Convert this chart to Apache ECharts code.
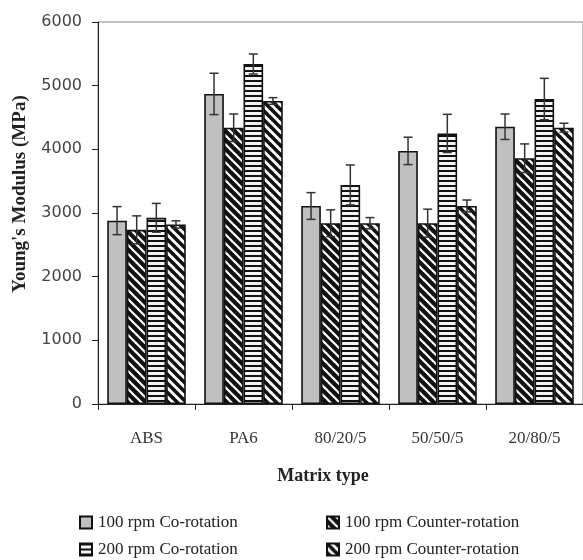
<!DOCTYPE html>
<html>
<head>
<meta charset="utf-8">
<script src="https://cdn.jsdelivr.net/npm/echarts@6/dist/echarts.min.js"></script>
<style>
html,body{margin:0;padding:0;background:#fff;}
#chart{width:583px;height:560px;}
</style>
</head>
<body>
<div id="chart"></div>
<script>
// ---- data ----
var categories = ['ABS', 'PA6', '80/20/5', '50/50/5', '20/80/5'];
var seriesNames = ['100 rpm Co-rotation', '100 rpm Counter-rotation', '200 rpm Co-rotation', '200 rpm Counter-rotation'];
var co100 = [2880, 4870, 3110, 3975, 4355];
var counter100 = [2735, 4340, 2840, 2840, 3860];
var co200 = [2925, 5340, 3440, 4250, 4790];
var counter200 = [2820, 4760, 2840, 3110, 4340];
var co100Err = [220, 325, 210, 215, 200];
var counter100Err = [220, 215, 210, 220, 225];
var co200Err = [226, 157, 314, 300, 325];
var counter200Err = [57, 52, 88, 94, 70];
var yTicks = {min: 0, max: 6000, interval: 1000};

var values = [co100, counter100, co200, counter200];
var errors = [co100Err, counter100Err, co200Err, counter200Err];

// ---- patterns ----
function diagPattern(size, bg, fg, w) {
  var c = document.createElement('canvas');
  c.width = size; c.height = size;
  var ctx = c.getContext('2d');
  ctx.fillStyle = bg; ctx.fillRect(0, 0, size, size);
  ctx.strokeStyle = fg; ctx.lineWidth = w; ctx.lineCap = 'square';
  [[0, 0, size, size], [-size, 0, size, 2 * size], [0, -size, 2 * size, size]].forEach(function (s) {
    ctx.beginPath(); ctx.moveTo(s[0], s[1]); ctx.lineTo(s[2], s[3]); ctx.stroke();
  });
  return {image: c, repeat: 'repeat'};
}
function horizPattern(h, black) {
  var c = document.createElement('canvas');
  c.width = 4; c.height = h;
  var ctx = c.getContext('2d');
  ctx.fillStyle = '#f4f4f4'; ctx.fillRect(0, 0, 4, h);
  ctx.fillStyle = '#111'; ctx.fillRect(0, 0, 4, black);
  return {image: c, repeat: 'repeat'};
}
var fills = [
  '#c0c0c0',
  diagPattern(9, '#111', '#ffffff', 2.2),
  horizPattern(5, 2),
  diagPattern(9, '#ffffff', '#111', 3.6)
];

var catGap = 0.19;
var series = [];
for (var i = 0; i < 4; i++) {
  series.push({
    name: seriesNames[i],
    type: 'bar',
    data: values[i],
    barGap: '0%',
    barCategoryGap: '19%',
    itemStyle: {color: fills[i], borderColor: '#111', borderWidth: 1.6},
    emphasis: {disabled: true}
  });
}
for (var j = 0; j < 4; j++) {
  (function (idx) {
    var d = values[idx].map(function (v, k) { return [k, v, errors[idx][k]]; });
    series.push({
      type: 'custom',
      name: seriesNames[idx] + ' err',
      data: d,
      encode: {x: 0, y: 1},
      z: 5,
      silent: true,
      renderItem: function (params, api) {
        var cat = api.value(0), v = api.value(1), e = api.value(2);
        var p = api.coord([cat, v]);
        var band = api.size([1, 0])[0];
        var bw = band * (1 - catGap) / 4;
        var x = p[0] + (idx - 1.5) * bw;
        var top = api.coord([cat, v + e])[1];
        var bot = api.coord([cat, v - e])[1];
        var cap = 4.5;
        var st = {stroke: '#333', lineWidth: 1.5};
        return {
          type: 'group',
          children: [
            {type: 'line', shape: {x1: x, y1: top, x2: x, y2: bot}, style: st},
            {type: 'line', shape: {x1: x - cap, y1: top, x2: x + cap, y2: top}, style: st},
            {type: 'line', shape: {x1: x - cap, y1: bot, x2: x + cap, y2: bot}, style: st}
          ]
        };
      }
    });
  })(j);
}

var serif = '"Liberation Serif", "Times New Roman", serif';
function legendItem(name, left, top) {
  return {
    data: [name],
    orient: 'horizontal', left: left, top: top,
    itemWidth: 12, itemHeight: 12, itemGap: 6, padding: 0,
    icon: 'rect', selectedMode: false,
    textStyle: {fontFamily: serif, fontSize: 17, color: '#222', padding: [0, 0, 0, 1]}
  };
}

var chart = echarts.init(document.getElementById('chart'), null, {renderer: 'canvas'});
chart.setOption({
  animation: false,
  backgroundColor: '#fff',
  grid: {left: 98, top: 22, width: 487, height: 382, show: true, borderColor: '#888', borderWidth: 1},
  xAxis: {
    type: 'category',
    data: categories,
    axisLine: {lineStyle: {color: '#222', width: 1}},
    axisTick: {show: true, length: 6, lineStyle: {color: '#222'}},
    axisLabel: {margin: 26, color: '#333', fontFamily: serif, fontSize: 17}
  },
  yAxis: {
    type: 'value',
    min: yTicks.min, max: yTicks.max, interval: yTicks.interval,
    splitLine: {show: false},
    axisLine: {show: true, lineStyle: {color: '#222', width: 1}},
    axisTick: {show: true, length: 6, lineStyle: {color: '#222'}},
    axisLabel: {
      margin: 16, color: '#444', fontFamily: '"DejaVu Sans", Verdana, sans-serif', fontSize: 16,
      formatter: function (v) { return String(v); }
    }
  },
  legend: [
    legendItem(seriesNames[0], 79, 514),
    legendItem(seriesNames[2], 79, 541),
    legendItem(seriesNames[1], 326, 514),
    legendItem(seriesNames[3], 326, 541)
  ],
  graphic: [
    {type: 'text', x: 323, y: 476, style: {text: 'Matrix type', font: 'bold 18px ' + serif, fill: '#222', align: 'center', verticalAlign: 'middle'}},
    {type: 'text', x: 20, y: 194, rotation: Math.PI / 2, style: {text: "Young's Modulus (MPa)", font: 'bold 19px ' + serif, fill: '#222', align: 'center', verticalAlign: 'middle'}}
  ],
  series: series
});
</script>
</body>
</html>
